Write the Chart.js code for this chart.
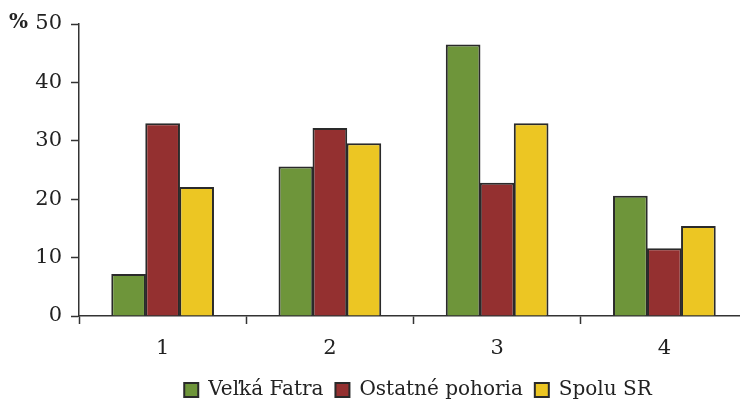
<!DOCTYPE html>
<html>
<head>
<meta charset="utf-8">
<script src="https://cdn.jsdelivr.net/npm/chart.js@4"></script>
<style>
    html, body { margin: 0; padding: 0; background: #fff; overflow: hidden; }
    #wrap { width: 748px; height: 404px; }
</style>
</head>
<body>
<div id="wrap"><canvas id="chart" width="748" height="404"></canvas></div>
<script>
// Chart data
const categories = ['1', '2', '3', '4'];
const velkaFatra = [7.2, 25.6, 46.5, 20.6];
const ostatnePohoria = [33.0, 32.2, 22.8, 11.6];
const spoluSR = [22.1, 29.6, 33.0, 15.4];
const yTicks = [0, 10, 20, 30, 40, 50];

const serif = '"DejaVu Serif", "Liberation Serif", serif';
const axisColor = '#333333';

// "%" unit label at top left
const unitLabel = {
    id: 'unitLabel',
    afterDraw(chart) {
        const ctx = chart.ctx;
        ctx.save();
        ctx.font = 'bold 20px ' + serif;
        ctx.fillStyle = '#222';
        ctx.textAlign = 'left';
        ctx.textBaseline = 'middle';
        ctx.fillText('%', 9, chart.chartArea.top - 1);
        ctx.restore();
    }
};

// nudge the legend right/down like in the original figure
const legendShift = {
    id: 'legendShift',
    afterLayout(chart) {
        const lg = chart.legend;
        lg.left += 44; lg.right += 44;
        lg.top += 6; lg.bottom += 6;
    }
};

const ctx = document.getElementById('chart').getContext('2d');
new Chart(ctx, {
    type: 'bar',
    data: {
        labels: categories,
        datasets: [
            { label: 'Veľká Fatra', data: velkaFatra, backgroundColor: '#6e953a' },
            { label: 'Ostatné pohoria', data: ostatnePohoria, backgroundColor: '#943030' },
            { label: 'Spolu SR', data: spoluSR, backgroundColor: '#ecc623' }
        ].map(d => Object.assign(d, { borderColor: '#2a2a2a', borderWidth: 2 }))
    },
    options: {
        responsive: false,
        animation: false,
        categoryPercentage: 0.61,
        barPercentage: 1.02,
        layout: { padding: { top: 24, right: 0, left: 0, bottom: 0 } },
        scales: {
            x: {
                grid: { drawOnChartArea: false, tickLength: 8, tickColor: axisColor, tickWidth: 1.5 },
                border: { color: axisColor, width: 1.5 },
                ticks: { color: '#222', font: { family: serif, size: 21 }, padding: 12 },
                afterFit: (scale) => { scale.height = 46; }
            },
            y: {
                min: 0,
                max: 50,
                afterBuildTicks: (scale) => { scale.ticks = yTicks.map(v => ({ value: v })); },
                grid: { drawOnChartArea: false, tickLength: 8, tickColor: axisColor, tickWidth: 1.5 },
                border: { color: axisColor, width: 1.5 },
                ticks: { color: '#222', font: { family: serif, size: 21 }, padding: 9 },
                afterFit: (scale) => { scale.width = 79; }
            }
        },
        plugins: {
            legend: {
                position: 'bottom',
                labels: {
                    boxWidth: 14,
                    boxHeight: 14,
                    padding: 12,
                    color: '#222',
                    font: { family: serif, size: 20 }
                }
            },
            tooltip: { enabled: false }
        }
    },
    plugins: [unitLabel, legendShift]
});
</script>
</body>
</html>
